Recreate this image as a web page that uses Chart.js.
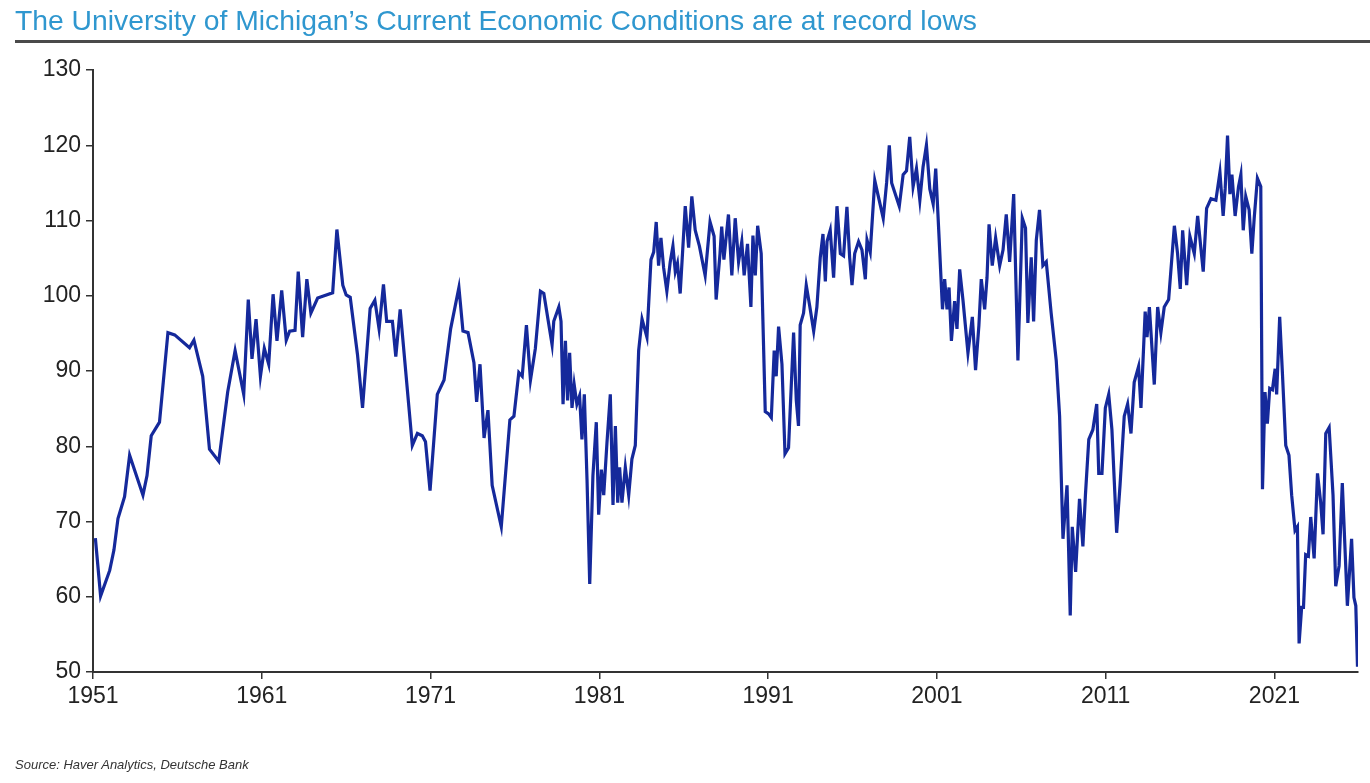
<!DOCTYPE html>
<html>
<head>
<meta charset="utf-8">
<script src="https://cdn.jsdelivr.net/npm/chart.js@4/dist/chart.umd.min.js"></script>
<style>
  body { margin: 0; background: #fff; width: 1370px; height: 783px; overflow: hidden; position: relative; font-family: "Liberation Sans", Arial, sans-serif; }
  #titulo { position: absolute; left: 15px; top: 4px; font-size: 28.3px; color: #2f97cf; z-index: 2; white-space: nowrap; }
  #linha { position: absolute; left: 15px; right: 0; top: 40px; height: 3px; background: #4a4a4a; z-index: 2; }
  #fonte { position: absolute; left: 15px; top: 757px; font-size: 13px; font-style: italic; color: #333; z-index: 2; }
  canvas { position: absolute; left: 0; top: 0; }
</style>
</head>
<body>
<div id="titulo">The University of Michigan’s Current Economic Conditions are at record lows</div>
<div id="linha"></div>
<canvas id="chart-umich" width="1370" height="783"></canvas>
<div id="fonte">Source: Haver Analytics, Deutsche Bank</div>
<script>
// datas em anos decimais
let anos = [
  1951.14, 1951.45, 1951.99, 1952.24, 1952.48, 1952.87, 1953.17, 1953.96, 1954.2, 1954.45,
  1954.94, 1955.44, 1955.84, 1956.72, 1956.98, 1957.5, 1957.9, 1958.45, 1958.98, 1959.42,
  1959.93, 1960.2, 1960.42, 1960.66, 1960.92, 1961.15, 1961.41, 1961.67, 1961.9, 1962.18,
  1962.45, 1962.65, 1962.97, 1963.16, 1963.42, 1963.67, 1963.91, 1964.31, 1965.2, 1965.45,
  1965.8, 1966.0, 1966.24, 1966.67, 1966.97, 1967.42, 1967.7, 1967.95, 1968.21, 1968.4,
  1968.74, 1968.94, 1969.2, 1969.92, 1970.22, 1970.51, 1970.7, 1970.97, 1971.4, 1971.8,
  1972.19, 1972.68, 1972.92, 1973.22, 1973.57, 1973.73, 1973.93, 1974.17, 1974.4, 1974.65,
  1975.19, 1975.7, 1975.94, 1976.23, 1976.43, 1976.68, 1976.92, 1977.21, 1977.51, 1977.71,
  1978.2, 1978.3, 1978.6, 1978.73, 1978.85, 1978.99, 1979.12, 1979.24, 1979.38, 1979.51,
  1979.67, 1979.83, 1979.97, 1980.11, 1980.27, 1980.43, 1980.62, 1980.82, 1980.96, 1981.12,
  1981.26, 1981.45, 1981.65, 1981.81, 1981.95, 1982.09, 1982.2, 1982.34, 1982.54, 1982.74,
  1982.93, 1983.13, 1983.33, 1983.53, 1983.82, 1984.06, 1984.22, 1984.37, 1984.51, 1984.65,
  1984.81, 1985.0, 1985.2, 1985.36, 1985.5, 1985.63, 1985.79, 1986.09, 1986.29, 1986.48,
  1986.68, 1986.93, 1987.27, 1987.56, 1987.8, 1987.92, 1988.15, 1988.25, 1988.38, 1988.65,
  1988.85, 1989.05, 1989.25, 1989.44, 1989.58, 1989.78, 1989.98, 1990.1, 1990.24, 1990.38,
  1990.59, 1990.83, 1991.03, 1991.19, 1991.36, 1991.48, 1991.62, 1991.82, 1992.0, 1992.21,
  1992.51, 1992.67, 1992.8, 1992.9, 1993.1, 1993.26, 1993.46, 1993.7, 1993.89, 1994.09,
  1994.25, 1994.39, 1994.49, 1994.68, 1994.88, 1995.08, 1995.28, 1995.47, 1995.67, 1995.83,
  1995.97, 1996.13, 1996.36, 1996.56, 1996.76, 1996.86, 1997.05, 1997.32, 1997.58, 1997.82,
  1998.02, 1998.18, 1998.32, 1998.51, 1998.77, 1999.0, 1999.2, 1999.39, 1999.59, 1999.79,
  1999.99, 2000.18, 2000.38, 2000.58, 2000.78, 2000.93, 2001.13, 2001.33, 2001.46, 2001.6,
  2001.72, 2001.86, 2002.05, 2002.19, 2002.35, 2002.55, 2002.84, 2003.1, 2003.29, 2003.49,
  2003.63, 2003.83, 2003.97, 2004.09, 2004.28, 2004.48, 2004.72, 2004.92, 2005.11, 2005.31,
  2005.55, 2005.8, 2006.06, 2006.25, 2006.39, 2006.59, 2006.73, 2006.89, 2007.08, 2007.28,
  2007.48, 2007.77, 2008.07, 2008.27, 2008.47, 2008.71, 2008.9, 2009.02, 2009.22, 2009.45,
  2009.65, 2009.8, 2010.0, 2010.24, 2010.47, 2010.59, 2010.78, 2010.98, 2011.18, 2011.37,
  2011.65, 2011.85, 2012.1, 2012.3, 2012.5, 2012.69, 2012.95, 2013.09, 2013.34, 2013.45,
  2013.59, 2013.88, 2014.08, 2014.27, 2014.47, 2014.73, 2015.07, 2015.26, 2015.42, 2015.56,
  2015.8, 2015.99, 2016.25, 2016.45, 2016.78, 2016.98, 2017.24, 2017.53, 2017.77, 2017.96,
  2018.08, 2018.22, 2018.36, 2018.48, 2018.67, 2018.87, 2019.01, 2019.15, 2019.3, 2019.5,
  2019.66, 2019.8, 2019.99, 2020.19, 2020.29, 2020.44, 2020.58, 2020.72, 2020.88, 2021.04,
  2021.13, 2021.31, 2021.47, 2021.67, 2021.86, 2022.02, 2022.22, 2022.36, 2022.46, 2022.61,
  2022.72, 2022.85, 2023.01, 2023.15, 2023.35, 2023.55, 2023.74, 2023.88, 2024.04, 2024.24,
  2024.47, 2024.63, 2024.83, 2025.02, 2025.32, 2025.57, 2025.71, 2025.82, 2025.92
]
let condicoes_atuais = [
  67.8, 60.1, 63.5, 66.2, 70.4, 73.3, 78.8, 73.5, 76.1, 81.4,
  83.2, 95.1, 94.8, 93.1, 94.1, 89.3, 79.6, 78.0, 87.2, 92.7,
  86.9, 99.5, 91.6, 96.9, 89.3, 93.0, 90.9, 100.2, 94.0, 100.7,
  94.1, 95.3, 95.4, 103.2, 94.5, 102.2, 97.7, 99.7, 100.4, 108.8,
  101.4, 100.1, 99.8, 92.2, 85.1, 98.3, 99.4, 95.6, 101.5, 96.6,
  96.6, 91.9, 98.2, 80.1, 81.7, 81.4, 80.6, 74.1, 86.9, 88.8,
  95.6, 101.1, 95.3, 95.1, 91.1, 85.9, 90.9, 81.1, 84.8, 74.8,
  69.3, 83.5, 84.0, 89.8, 89.3, 96.1, 88.8, 93.0, 100.6, 100.3,
  93.5, 96.6, 98.5, 96.6, 85.6, 94.0, 86.1, 92.4, 85.1, 88.2,
  85.6, 86.7, 80.9, 86.9, 75.6, 61.7, 76.1, 83.2, 70.9, 76.9,
  73.5, 80.4, 86.9, 72.2, 82.7, 72.5, 77.2, 72.5, 77.2, 73.5,
  78.3, 80.1, 92.7, 96.9, 94.5, 104.8, 105.8, 109.8, 104.0, 107.7,
  103.7, 100.6, 104.5, 106.6, 103.2, 104.3, 100.3, 111.9, 106.4, 113.2,
  108.7, 106.6, 102.7, 109.8, 107.9, 99.5, 105.6, 109.2, 104.8, 110.8,
  102.7, 110.3, 104.5, 107.2, 102.7, 106.9, 98.5, 108.0, 102.7, 109.3,
  105.6, 84.6, 84.3, 83.8, 92.7, 89.3, 95.9, 90.9, 79.0, 79.8,
  95.1, 86.1, 82.7, 96.1, 97.7, 101.4, 98.7, 95.3, 98.5, 105.1,
  108.2, 101.9, 107.2, 108.7, 102.4, 111.9, 105.6, 105.3, 111.8, 105.1,
  101.4, 105.6, 107.2, 106.1, 102.2, 107.4, 105.8, 115.3, 112.7, 110.3,
  115.0, 120.0, 115.0, 113.7, 111.9, 116.1, 116.6, 121.1, 114.5, 116.9,
  112.7, 117.1, 120.0, 114.2, 112.2, 116.9, 107.7, 98.2, 102.2, 98.2,
  101.1, 94.0, 99.3, 95.6, 103.5, 99.3, 92.4, 97.2, 90.1, 96.1,
  102.2, 98.2, 102.4, 109.5, 104.0, 107.7, 104.0, 106.1, 110.8, 104.5,
  113.5, 91.4, 110.3, 109.0, 96.4, 105.1, 96.6, 107.4, 111.4, 104.0,
  104.5, 97.7, 91.4, 84.0, 67.7, 74.8, 57.5, 69.3, 63.3, 73.0,
  66.7, 73.5, 80.9, 82.2, 85.6, 76.4, 76.4, 85.1, 86.9, 82.2,
  68.5, 74.8, 84.0, 85.6, 81.7, 88.5, 90.6, 85.1, 97.9, 94.5,
  98.5, 88.2, 98.5, 95.1, 98.5, 99.5, 109.3, 105.6, 100.9, 108.7,
  101.4, 107.9, 105.6, 110.6, 103.2, 111.6, 112.9, 112.7, 116.4, 110.6,
  114.2, 121.3, 113.5, 116.1, 110.6, 114.5, 116.1, 108.7, 113.2, 111.4,
  105.6, 110.3, 115.6, 114.5, 74.3, 87.2, 83.0, 87.7, 87.5, 90.3,
  86.9, 97.2, 89.8, 80.1, 78.8, 73.5, 68.8, 69.3, 53.8, 58.6,
  58.6, 65.6, 65.4, 70.6, 65.1, 76.4, 72.5, 68.3, 81.7, 82.5,
  73.5, 61.4, 64.1, 75.1, 58.8, 67.7, 59.9, 58.8, 50.7
]
let ticks_anos = [1951, 1961, 1971, 1981, 1991, 2001, 2011, 2021]
let ticks_valor = [50, 60, 70, 80, 90, 100, 110, 120, 130]

let pontos = anos.map((a, i) => ({ x: a, y: condicoes_atuais[i] }))
let fonte_eixo = { family: '"Liberation Sans", Arial, sans-serif', size: 23 }

var ctx = document.getElementById('chart-umich').getContext('2d')

var chart = new Chart(ctx, {
    type: 'line',
    data: {
      datasets: [{
        label: 'Current Economic Conditions',
        data: pontos,
        borderColor: '#15299b',
        borderWidth: 3.2,
        pointRadius: 0,
        tension: 0,
      }]
    },
    options: {
      responsive: false,
      animation: false,
      layout: { padding: { top: 70, right: 12, left: 0, bottom: 0 } },
      plugins: {
        legend: { display: false },
        tooltip: { enabled: false },
      },
      scales: {
        x: {
          type: 'linear',
          min: 1951,
          max: 2025.95,
          afterBuildTicks: (eixo) => { eixo.ticks = ticks_anos.map(v => ({ value: v })) },
          afterFit: (eixo) => { eixo.height = 111 },
          ticks: { font: fonte_eixo, color: '#222', padding: 4, maxRotation: 0, autoSkip: false, callback: (v) => String(v) },
          grid: { drawOnChartArea: false, tickLength: 7, color: '#333', lineWidth: 1.5 },
          border: { color: '#333', width: 2 },
        },
        y: {
          min: 50,
          max: 130,
          afterBuildTicks: (eixo) => { eixo.ticks = ticks_valor.map(v => ({ value: v })) },
          afterFit: (eixo) => { eixo.width = 93 },
          ticks: { font: fonte_eixo, color: '#222', padding: 5 },
          grid: { drawOnChartArea: false, tickLength: 7, color: '#333', lineWidth: 1.5 },
          border: { color: '#333', width: 2 },
        }
      }
    }
  });
</script>
</body>
</html>
